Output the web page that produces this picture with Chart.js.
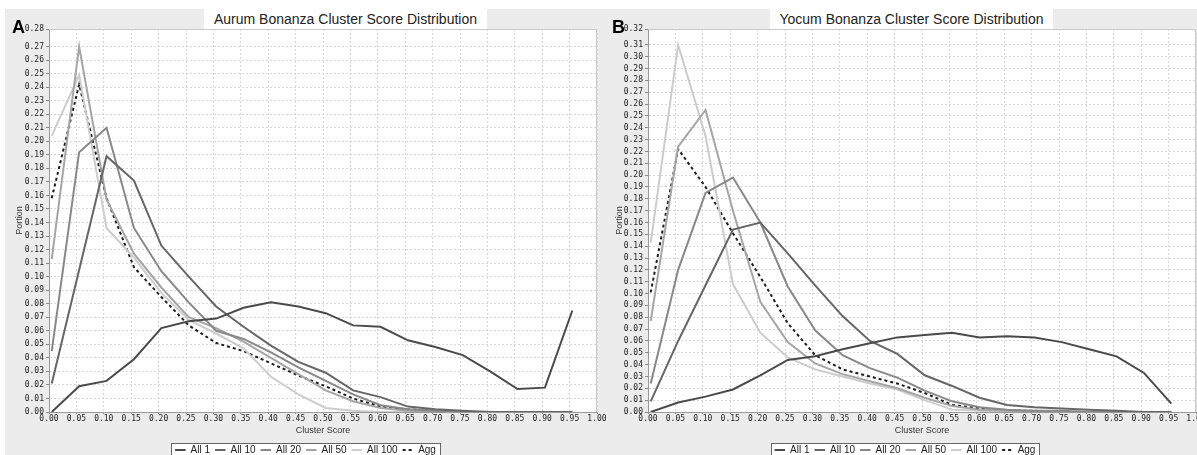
<!DOCTYPE html>
<html>
<head>
<meta charset="utf-8">
<script src="https://cdn.jsdelivr.net/npm/chart.js@4.4.1/dist/chart.umd.min.js"></script>
<style>
  html, body { margin: 0; padding: 0; background: #fff; }
  body { width: 1197px; height: 455px; overflow: hidden; position: relative; font-family: "Liberation Sans", Arial, sans-serif; }
  .panel { position: absolute; top: 9px; height: 446px; background: #ececec; }
  .title { position: absolute; top: 9px; height: 20px; width: 283px; background: #fff; color: #222;
           font-size: 14px; line-height: 20px; text-align: center; white-space: nowrap; }
  .tag { position: absolute; top: 18px; font-size: 18px; line-height: 18px; font-weight: bold; color: #000; }
  .chartbox { position: absolute; top: 0; width: 615px; height: 465px; }
</style>
</head>
<body>
<div class="panel" style="left:5px;width:595px"></div>
<div class="panel" style="left:600px;width:597px"></div>
<div class="title" style="left:204px">Aurum Bonanza Cluster Score Distribution</div>
<div class="title" style="left:770px">Yocum Bonanza Cluster Score Distribution</div>
<div class="chartbox" style="left:600px"><canvas id="chartB" width="615" height="465"></canvas></div>
<div class="chartbox" style="left:0"><canvas id="chartA" width="615" height="465"></canvas></div>
<div class="tag" style="left:12px">A</div>
<div class="tag" style="left:612px">B</div>

<script>
// bin positions on the Cluster Score axis
const scoreBins = [0.005, 0.055, 0.105, 0.155, 0.205, 0.255, 0.305, 0.355, 0.405, 0.455,
                   0.505, 0.555, 0.605, 0.655, 0.705, 0.755, 0.805, 0.855, 0.905, 0.955];
const seriesNames = ['All 1', 'All 10', 'All 20', 'All 50', 'All 100', 'Agg'];
const seriesColors = ['#4a4a4a', '#666666', '#888888', '#a5a5a5', '#cccccc', '#1e1e1e'];

// panel A - Aurum
const aurumAll1   = [0.000, 0.019, 0.023, 0.039, 0.062, 0.067, 0.069, 0.077, 0.081, 0.078, 0.073, 0.064, 0.063, 0.053, 0.048, 0.042, 0.030, 0.017, 0.018, 0.075];
const aurumAll10  = [0.021, 0.105, 0.189, 0.171, 0.123, 0.100, 0.078, 0.063, 0.049, 0.037, 0.029, 0.016, 0.011, 0.004, 0.002, 0.001, 0.000, 0.000, 0.000, 0.000];
const aurumAll20  = [0.045, 0.192, 0.210, 0.136, 0.104, 0.081, 0.060, 0.054, 0.044, 0.033, 0.023, 0.013, 0.005, 0.002, 0.001, 0.000, 0.000, 0.000, 0.000, 0.000];
const aurumAll50  = [0.113, 0.270, 0.157, 0.117, 0.092, 0.070, 0.062, 0.052, 0.040, 0.028, 0.016, 0.008, 0.003, 0.001, 0.000, 0.000, 0.000, 0.000, 0.000, 0.000];
const aurumAll100 = [0.204, 0.249, 0.136, 0.114, 0.088, 0.068, 0.058, 0.047, 0.026, 0.013, 0.003, 0.001, 0.000, 0.000, 0.000, 0.000, 0.000, 0.000, 0.000, 0.000];
const aurumAgg    = [0.158, 0.242, 0.158, 0.107, 0.085, 0.064, 0.051, 0.045, 0.036, 0.027, 0.019, 0.010, 0.004, 0.002, 0.001, 0.000, 0.000, 0.000, 0.000, 0.000];

// panel B - Yocum
const yocumAll1   = [0.000, 0.008, 0.013, 0.019, 0.031, 0.044, 0.047, 0.053, 0.058, 0.063, 0.065, 0.067, 0.063, 0.064, 0.063, 0.059, 0.053, 0.047, 0.033, 0.007];
const yocumAll10  = [0.009, 0.060, 0.107, 0.154, 0.160, 0.134, 0.107, 0.081, 0.060, 0.049, 0.031, 0.022, 0.012, 0.006, 0.004, 0.003, 0.002, 0.001, 0.000, 0.000];
const yocumAll20  = [0.024, 0.120, 0.185, 0.198, 0.160, 0.106, 0.069, 0.048, 0.037, 0.029, 0.018, 0.009, 0.004, 0.002, 0.001, 0.001, 0.000, 0.000, 0.000, 0.000];
const yocumAll50  = [0.077, 0.224, 0.255, 0.170, 0.093, 0.059, 0.041, 0.032, 0.026, 0.020, 0.012, 0.005, 0.002, 0.001, 0.000, 0.000, 0.000, 0.000, 0.000, 0.000];
const yocumAll100 = [0.143, 0.310, 0.233, 0.108, 0.067, 0.046, 0.036, 0.030, 0.024, 0.019, 0.010, 0.002, 0.001, 0.000, 0.000, 0.000, 0.000, 0.000, 0.000, 0.000];
const yocumAgg    = [0.101, 0.222, 0.190, 0.151, 0.114, 0.075, 0.048, 0.036, 0.030, 0.024, 0.016, 0.006, 0.003, 0.001, 0.001, 0.000, 0.000, 0.000, 0.000, 0.000];

const tickFont = { family: 'DejaVu Sans Mono', size: 8 };
const axisTitleFont = { family: 'Liberation Sans', size: 9 };
const legendPad = 5;

// white plot background, framed legend, light border round the plot
const panelDecor = {
    id: 'panelDecor',
    afterUpdate(chart) {
        const lg = chart.legend;
        const dx = 7;
        lg.left += dx;
        lg.right += dx;
        lg.legendHitBoxes.forEach(b => { b.left += dx; });
    },
    beforeDraw(chart) {
        const { ctx, chartArea: a, legend } = chart;
        ctx.save();
        ctx.fillStyle = '#fff';
        ctx.fillRect(a.left, a.top, a.right - a.left, a.bottom - a.top);
        const boxes = legend.legendHitBoxes;
        const last = boxes[boxes.length - 1];
        const l = Math.round(boxes[0].left - 4);
        const r = Math.round(last.left + last.width + 4);
        const t = Math.round(legend.top + 3);
        ctx.fillRect(l, t, r - l, 30);
        ctx.strokeStyle = '#666';
        ctx.lineWidth = 1;
        ctx.strokeRect(l + 0.5, t + 0.5, r - l, 30);
        ctx.restore();
    },
    beforeDatasetsDraw(chart) {
        const { ctx, chartArea: a } = chart;
        ctx.save();
        ctx.strokeStyle = '#c8c8c8';
        ctx.lineWidth = 1;
        ctx.beginPath();
        ctx.moveTo(a.left, a.top + 0.5);
        ctx.lineTo(a.right - 0.5, a.top + 0.5);
        ctx.lineTo(a.right - 0.5, a.bottom);
        ctx.stroke();
        ctx.restore();
    }
};

function makeDatasets(seriesList) {
    return seriesList.map((values, i) => ({
        label: seriesNames[i],
        data: scoreBins.map((x, j) => ({ x: x, y: values[j] })),
        borderColor: seriesColors[i],
        backgroundColor: seriesColors[i],
        borderWidth: 2,
        borderDash: seriesNames[i] === 'Agg' ? [3, 3] : [],
        pointRadius: 0,
        tension: 0,
        fill: false
    }));
}

function buildChart(canvasId, seriesList, yMax, yAxisWidth, padRight) {
    return new Chart(document.getElementById(canvasId), {
        type: 'line',
        data: { datasets: makeDatasets(seriesList) },
        options: {
            responsive: false,
            animation: false,
            devicePixelRatio: 1,
            layout: { padding: { left: 0, top: 29, right: padRight, bottom: 0 } },
            plugins: {
                legend: {
                    position: 'bottom',
                    labels: {
                        // zero-height box is stroked as a short line; width 10.5
                        // keeps the dash gaps of the outward and return strokes aligned
                        boxWidth: 10.5,
                        boxHeight: 0,
                        padding: legendPad,
                        color: '#222',
                        font: { family: 'Liberation Sans', size: 10 }
                    }
                },
                tooltip: { enabled: false }
            },
            scales: {
                x: {
                    type: 'linear',
                    min: 0,
                    max: 1,
                    bounds: 'data',
                    ticks: {
                        stepSize: 0.05, autoSkip: false, maxRotation: 0, padding: 0,
                        color: '#222', font: tickFont,
                        callback: v => v.toFixed(2)
                    },
                    grid: { color: '#d8d8d8', tickLength: 2, tickColor: '#888' },
                    border: { color: '#999', dash: [2, 2] },
                    title: { display: true, text: 'Cluster Score', color: '#333', font: axisTitleFont, padding: { top: 0, bottom: 3.6 } },
                    afterFit: s => { s.height = 28; }
                },
                y: {
                    min: 0,
                    max: yMax,
                    bounds: 'data',
                    ticks: {
                        stepSize: 0.01, autoSkip: false, padding: 2,
                        color: '#222', font: tickFont,
                        callback: v => v.toFixed(2)
                    },
                    grid: { color: '#d8d8d8', tickLength: 3, tickColor: '#888' },
                    border: { color: '#999', dash: [2, 2] },
                    title: { display: true, text: 'Portion', color: '#333', font: axisTitleFont, padding: { top: 14, bottom: 0 } },
                    afterFit: s => { s.width = yAxisWidth; }
                }
            }
        },
        plugins: [panelDecor]
    });
}

buildChart('chartA', [aurumAll1, aurumAll10, aurumAll20, aurumAll50, aurumAll100, aurumAgg], 0.283, 49, 18);
buildChart('chartB', [yocumAll1, yocumAll10, yocumAll20, yocumAll50, yocumAll100, yocumAgg], 0.3234, 48, 19);
</script>
</body>
</html>
